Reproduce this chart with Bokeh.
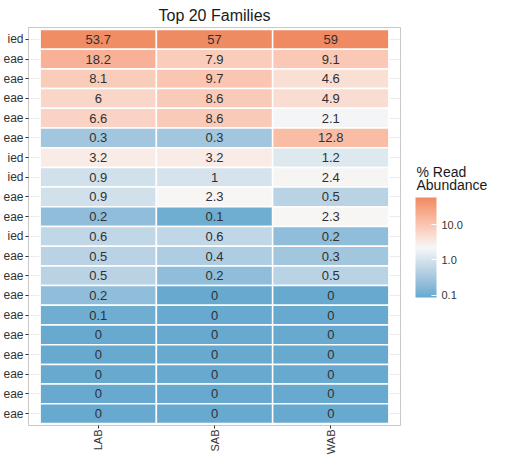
import math
from bokeh.plotting import figure
from bokeh.layouts import row
from bokeh.models import (ColumnDataSource, FixedTicker, ColorBar, LogColorMapper,
                          PrintfTickFormatter, Range1d)
from bokeh.core.properties import value
from bokeh.embed import file_html
from bokeh.resources import INLINE

# ---------------- data ----------------
samples = ["LAB", "SAB", "WAB"]
family_labels = ["ied", "eae", "eae", "eae", "eae", "eae", "ied", "ied", "eae", "eae",
                 "ied", "eae", "eae", "eae", "eae", "eae", "eae", "eae", "eae", "eae"]
lab = [53.7, 18.2, 8.1, 6, 6.6, 0.3, 3.2, 0.9, 0.9, 0.2, 0.6, 0.5, 0.5, 0.2, 0.1, 0, 0, 0, 0, 0]
sab = [57, 7.9, 9.7, 8.6, 8.6, 0.3, 3.2, 1, 2.3, 0.1, 0.6, 0.4, 0.2, 0, 0, 0, 0, 0, 0, 0]
wab = [59, 9.1, 4.6, 4.9, 2.1, 12.8, 1.2, 2.4, 0.5, 2.3, 0.2, 0.3, 0.5, 0, 0, 0, 0, 0, 0, 0]
color_ticks = [0.1, 1, 10]
scale_low, scale_high = 0.085, 59
legend_title = ["% Read", "Abundance"]

# ---------------- palette (blue -> white -> orange, Lab interpolation) ----------------
def _hex2rgb(h):
    h = h.lstrip("#")
    return [int(h[i:i + 2], 16) / 255 for i in (0, 2, 4)]

def _to_lab(h):
    rgb = [c / 12.92 if c <= 0.04045 else ((c + 0.055) / 1.055) ** 2.4 for c in _hex2rgb(h)]
    r, g, b = rgb
    X = (0.4124 * r + 0.3576 * g + 0.1805 * b) / 0.95047
    Y = (0.2126 * r + 0.7152 * g + 0.0722 * b)
    Z = (0.0193 * r + 0.1192 * g + 0.9505 * b) / 1.08883
    f = lambda t: t ** (1 / 3) if t > 0.008856 else 7.787 * t + 16 / 116
    fx, fy, fz = f(X), f(Y), f(Z)
    return (116 * fy - 16, 500 * (fx - fy), 200 * (fy - fz))

def _from_lab(L, a, b):
    fy = (L + 16) / 116
    fx = fy + a / 500
    fz = fy - b / 200
    finv = lambda t: t ** 3 if t ** 3 > 0.008856 else (t - 16 / 116) / 7.787
    X, Y, Z = finv(fx) * 0.95047, finv(fy), finv(fz) * 1.08883
    r = 3.2406 * X - 1.5372 * Y - 0.4986 * Z
    g = -0.9689 * X + 1.8758 * Y + 0.0415 * Z
    bb = 0.0557 * X - 0.2040 * Y + 1.0570 * Z
    out = []
    for c in (r, g, bb):
        c = 12.92 * c if c <= 0.0031308 else 1.055 * c ** (1 / 2.4) - 0.055
        out.append(max(0, min(255, round(c * 255))))
    return "#%02x%02x%02x" % tuple(out)

def _mix(c1, c2, t):
    l1, l2 = _to_lab(c1), _to_lab(c2)
    return _from_lab(*[a + (b - a) * t for a, b in zip(l1, l2)])

low_col, mid_col, high_col = "#67a9cf", "#f7f7f7", "#ef8a62"
N = 256
palette = []
for i in range(N):
    t = i / (N - 1)
    palette.append(_mix(low_col, mid_col, t / 0.5) if t < 0.5 else _mix(mid_col, high_col, (t - 0.5) / 0.5))

mapper = LogColorMapper(palette=palette, low=scale_low, high=scale_high,
                        low_color=palette[0], high_color=palette[-1])

# ---------------- source ----------------
xs, ys, vals, labels = [], [], [], []
for j, col in enumerate([lab, sab, wab]):
    for i, v in enumerate(col):
        xs.append(j + 1)
        ys.append(i + 1)
        vals.append(v)
        labels.append("{:g}".format(v))
source = ColumnDataSource(dict(x=xs, y=ys, val=vals, label=labels))

FONT = "Liberation Sans"
H = 457

# ---------------- main heatmap ----------------
p = figure(width=402, height=H,
           x_range=Range1d(0.4, 3.6), y_range=Range1d(20.6, 0.4),
           output_backend="svg", toolbar_location=None,
           min_border_left=25, min_border_top=27, min_border_right=2,
           min_border_bottom=30,
           background_fill_color="white", border_fill_color="white",
           title="Top 20 Families")

p.rect(x="x", y="y", width=1, height=1, source=source,
       fill_color={"field": "val", "transform": mapper},
       line_color="white", line_width=1.5)
p.text(x="x", y="y", text="label", source=source,
       text_align="center", text_baseline="middle",
       text_font=value(FONT), text_font_size="13px", text_color="#303030")

p.title.text_font = FONT
p.title.text_font_size = "16px"
p.title.text_font_style = "normal"
p.title.align = "center"
p.title.text_color = "#1a1a1a"
p.title.standoff = 8

p.xaxis.ticker = FixedTicker(ticks=[1, 2, 3])
p.xaxis.major_label_overrides = {i + 1: s for i, s in enumerate(samples)}
p.xaxis.major_label_orientation = math.pi / 2
p.yaxis.ticker = FixedTicker(ticks=list(range(1, 21)))
p.yaxis.major_label_overrides = {i + 1: s for i, s in enumerate(family_labels)}
for ax in (p.xaxis, p.yaxis):
    ax.axis_line_color = None
    ax.major_tick_line_color = "#333333"
    ax.major_tick_out = 3
    ax.major_tick_in = 0
    ax.minor_tick_line_color = None
    ax.major_label_text_font = FONT
    ax.major_label_text_color = "#333333"
p.yaxis.major_label_text_font_size = "12px"
p.xaxis.major_label_text_font_size = "11px"
p.yaxis.major_label_standoff = 2
p.xaxis.major_label_standoff = 1

p.xgrid.ticker = FixedTicker(ticks=[1, 2, 3])
p.ygrid.ticker = FixedTicker(ticks=list(range(1, 21)))
p.grid.grid_line_color = "#ebebeb"
p.outline_line_color = "#c8c8c8"
p.outline_line_width = 1

# ---------------- legend panel (colour bar + title) ----------------
# its frame is aligned with the heatmap frame (about y = 27 .. 424 on the page)
leg = figure(width=98, height=H, x_range=Range1d(0, 98), y_range=Range1d(424, 27),
             output_backend="svg", toolbar_location=None,
             x_axis_type=None, y_axis_type=None,
             min_border_left=0, min_border_right=0, min_border_top=0, min_border_bottom=0,
             background_fill_color="white", border_fill_color="white")
leg.grid.visible = False
leg.outline_line_color = None

leg.text(x=[14, 14], y=[171, 184.5], text=legend_title,
         text_align="left", text_baseline="alphabetic",
         text_font=value(FONT), text_font_size="14px", text_color="#1a1a1a")

cb = ColorBar(color_mapper=mapper, ticker=FixedTicker(ticks=color_ticks),
              formatter=PrintfTickFormatter(format="%.1f"),
              width=21, height=100, location=(13, 128),
              padding=0, margin=0,
              major_label_text_font=FONT, major_label_text_font_size="11px",
              major_label_text_color="#333333", label_standoff=5,
              major_tick_line_color="white", major_tick_in=5, major_tick_out=0,
              minor_tick_line_color=None, bar_line_color=None, border_line_color=None,
              background_fill_color=None)
leg.add_layout(cb, "center")

layout = row(p, leg, spacing=0)
open("out.html", "w").write(file_html(layout, INLINE))
